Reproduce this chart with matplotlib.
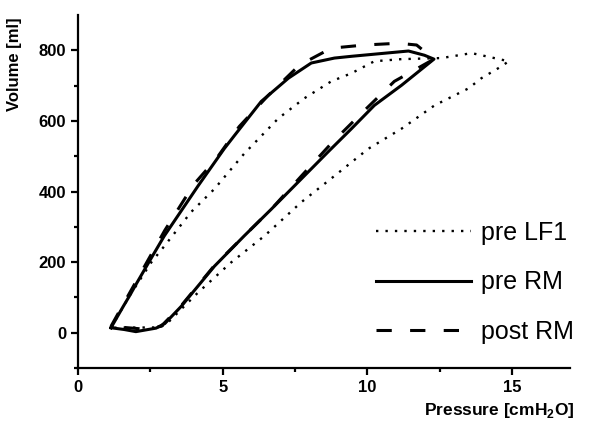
import matplotlib
matplotlib.use('Agg')
import matplotlib.pyplot as plt

plt.rcParams['font.family'] = ['Liberation Sans', 'DejaVu Sans']
plt.rcParams['mathtext.fontset'] = 'custom'
plt.rcParams['mathtext.rm'] = 'Liberation Sans:bold'
plt.rcParams['mathtext.bf'] = 'Liberation Sans:bold'

# pre LF1 (dotted) - inspiration then expiration
pre_lf1_p = [1.14, 1.77, 2.53, 2.98, 3.91, 4.71, 5.74, 6.92, 7.82, 8.75, 9.45, 10.24, 11.18, 12.56, 13.6, 13.94, 14.88,
             14.64, 13.94, 13.49, 12.32, 11.18, 10.03, 8.86, 7.72, 6.44, 5.29, 4.15, 3.56, 3.04, 2.8, 1.14]
pre_lf1_v = [14, 103, 199, 245, 342, 407, 507, 607, 664, 712, 735, 769, 775, 778, 792, 786, 769,
             755, 721, 692, 644, 578, 521, 444, 370, 274, 199, 114, 66, 23, 15, 14]

# pre RM (solid)
pre_rm_p = [1.14, 1.56, 1.77, 2.04, 2.45, 2.98, 4.15, 5.05, 5.4, 6.33, 7.27, 8.06, 8.86, 9.45, 11.42, 11.97, 12.3,
            11.18, 10.24, 9.45, 8.65, 7.72, 6.68, 5.74, 4.71, 3.56, 3.0, 2.7, 2.35, 2.0, 1.6, 1.14]
pre_rm_v = [14, 74, 103, 142, 200, 274, 416, 521, 558, 655, 721, 764, 778, 783, 798, 786, 775,
            701, 644, 578, 513, 436, 350, 274, 188, 74, 26, 13, 8, 3, 9, 14]

# post RM (dashed)
post_rm_p = [1.14, 1.56, 2.04, 2.45, 3.0, 4.0, 4.78, 5.57, 6.57, 7.65, 8.75, 9.9, 11.07, 11.7, 12.3,
             10.93, 9.79, 8.75, 7.72, 6.68, 5.74, 4.71, 3.56, 2.87, 2.3, 1.14]
post_rm_v = [18, 80, 150, 210, 290, 420, 493, 584, 672, 758, 806, 815, 820, 815, 775,
             712, 621, 536, 444, 350, 274, 190, 76, 18, 10, 18]

x_ticks = [0, 5, 10, 15]
y_ticks = [0, 200, 400, 600, 800]

fig = plt.figure(figsize=(6, 4.29), dpi=100)
ax = fig.add_axes([78/600, 1-368/429, 492/600, 353/429])

ax.plot(pre_lf1_p, pre_lf1_v, color='black', lw=1.7, linestyle=(0, (1, 3)), label='pre LF1')
ax.plot(pre_rm_p, pre_rm_v, color='black', lw=2.2, label='pre RM')
ax.plot(post_rm_p, post_rm_v, color='black', lw=2.2, linestyle=(0, (5, 6)), label='post RM')

ax.set_xlim(0, 17)
ax.set_ylim(-100, 900)
ax.set_xticks(x_ticks)
ax.set_yticks(y_ticks)
ax.set_xticks([2.5, 7.5, 12.5], minor=True)
ax.set_yticks([-100, 100, 300, 500, 700], minor=True)
ax.spines['top'].set_visible(False)
ax.spines['right'].set_visible(False)
for s in ['left', 'bottom']:
    ax.spines[s].set_linewidth(1.6)
ax.tick_params(which='major', direction='out', length=5, width=1.6, labelsize=12)
ax.tick_params(which='minor', direction='out', length=3, width=1.6)
for lab in ax.get_xticklabels() + ax.get_yticklabels():
    lab.set_fontweight('bold')

fig.text(15/600, 1-64/429, 'Volume [ml]', rotation=90, ha='center', va='center',
         fontsize=12, fontweight='bold')
fig.text(574/600, 1-410/429, r'Pressure [cmH$_{2}$O]', ha='right', va='center',
         fontsize=12.5, fontweight='bold')

ax.legend(loc='upper left', bbox_to_anchor=(0.56, 0.481), frameon=False, fontsize=18,
          handlelength=3.8, labelspacing=1.03, handletextpad=0.4)

plt.savefig('out.png', dpi=100)
